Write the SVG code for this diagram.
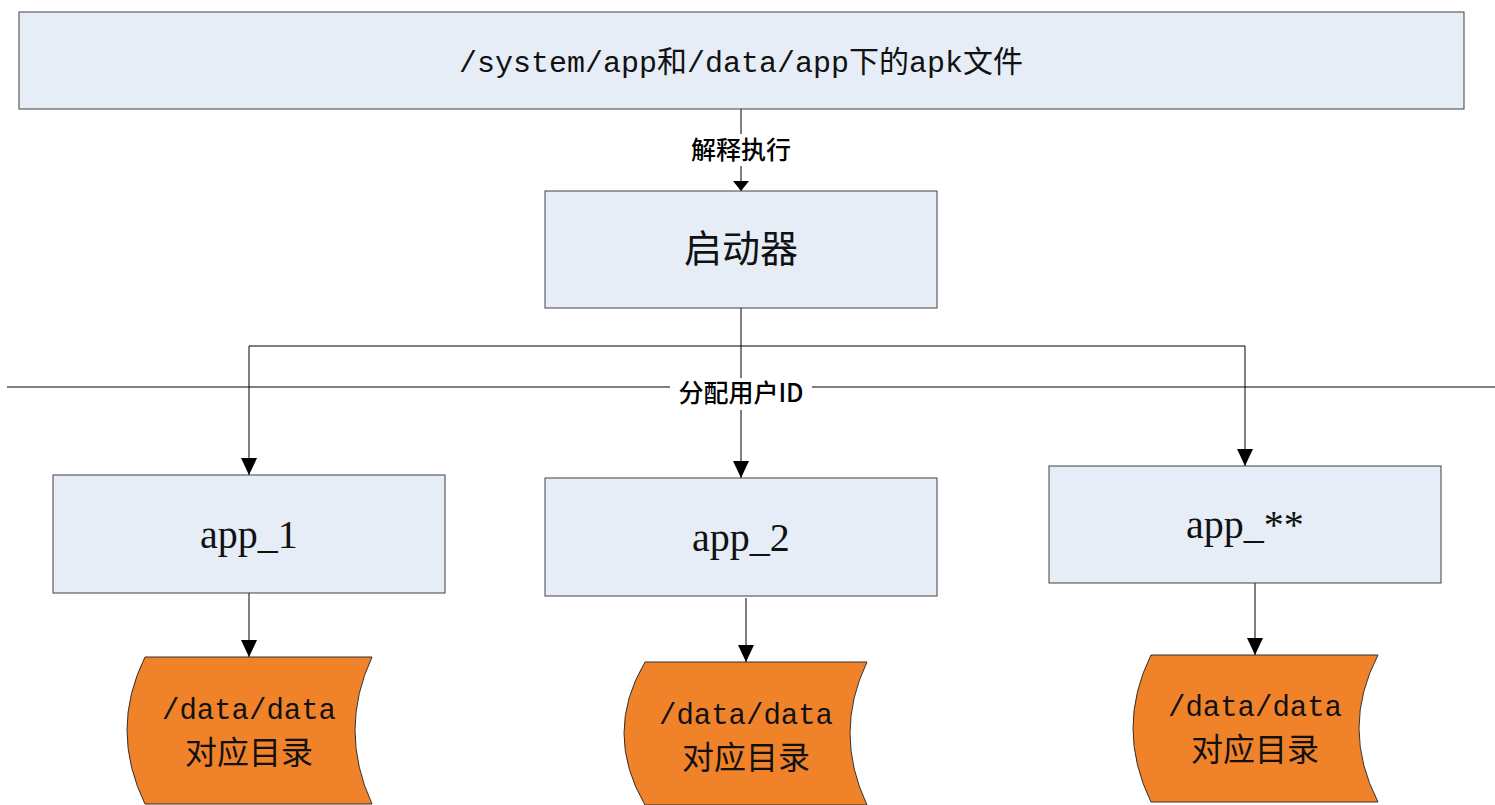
<svg xmlns="http://www.w3.org/2000/svg" width="1495" height="805" viewBox="0 0 1495 805">
  <style>
    .box { fill: #E6EDF7; stroke: #404040; stroke-width: 1; }
    .doc { fill: #F0822A; stroke: #303030; stroke-width: 1; }
    .wire { fill: none; stroke: #000; stroke-width: 1; }
    .mono { font-family: "Liberation Mono", "Noto Sans CJK SC", monospace; fill: #111; }
    .serif { font-family: "Liberation Serif", "Noto Sans CJK SC", serif; fill: #111; }
    .cjk { font-family: "Noto Sans CJK SC", sans-serif; fill: #111; }
    .lbl { font-family: "Noto Sans CJK SC", sans-serif; font-weight: 500; font-size: 25px; fill: #000; }
  </style>
  <defs>
    <marker id="arrow" markerUnits="userSpaceOnUse" markerWidth="18" markerHeight="18" refX="17" refY="8" orient="auto">
      <path d="M0,0 L17,8 L0,16 Z" fill="#000"/>
    </marker>
    <marker id="arrowSmall" markerUnits="userSpaceOnUse" markerWidth="12" markerHeight="18" refX="10" refY="8" orient="auto">
      <path d="M0,0 L10,8 L0,16 Z" fill="#000"/>
    </marker>
  </defs>

  <!-- separator line across the page -->
  <line x1="7" y1="387" x2="1495" y2="387" class="wire"/>

  <g id="connectors">
    <line x1="741" y1="109" x2="741" y2="191" class="wire" marker-end="url(#arrowSmall)"/>
    <polyline points="741,308 741,346" class="wire"/>
    <polyline points="249,346 1245,346" class="wire"/>
    <line x1="249" y1="346" x2="249" y2="475" class="wire" marker-end="url(#arrow)"/>
    <line x1="741" y1="346" x2="741" y2="478" class="wire" marker-end="url(#arrow)"/>
    <line x1="1245" y1="346" x2="1245" y2="466" class="wire" marker-end="url(#arrow)"/>
    <line x1="249" y1="593" x2="249" y2="657" class="wire" marker-end="url(#arrow)"/>
    <line x1="746" y1="598" x2="746" y2="662" class="wire" marker-end="url(#arrow)"/>
    <line x1="1255" y1="583" x2="1255" y2="655" class="wire" marker-end="url(#arrow)"/>
    <!-- edge labels with white backing -->
    <rect x="684" y="134" width="114" height="32" fill="#fff"/>
    <text x="741" y="159" text-anchor="middle" class="lbl">解释执行</text>
    <rect x="670" y="378" width="142" height="32" fill="#fff"/>
    <text x="741" y="402" text-anchor="middle" class="lbl">分配用户ID</text>
  </g>

  <g id="apk-files">
    <rect x="19" y="12" width="1445" height="97" class="box"/>
    <text x="741" y="72" text-anchor="middle" class="mono" font-size="30">/system/app和/data/app下的apk文件</text>
  </g>

  <g id="launcher">
    <rect x="545" y="191" width="392" height="117" class="box"/>
    <text x="741" y="262" text-anchor="middle" class="cjk" font-size="38">启动器</text>
  </g>

  <g id="app-1">
    <rect x="53" y="475" width="392" height="118" class="box"/>
    <text x="249" y="548" text-anchor="middle" class="serif" font-size="40">app_1</text>
  </g>

  <g id="app-2">
    <rect x="545" y="478" width="392" height="118" class="box"/>
    <text x="741" y="551" text-anchor="middle" class="serif" font-size="40">app_2</text>
  </g>

  <g id="app-n">
    <rect x="1049" y="466" width="392" height="117" class="box"/>
    <text x="1245" y="538" text-anchor="middle" class="serif" font-size="40">app_**</text>
  </g>

  <g id="data-1">
    <path d="M145,657 L372,657 Q338,730 372,804 L145,804 Q109,730 145,657 Z" class="doc"/>
    <text x="249" y="719" text-anchor="middle" class="mono" font-size="29">/data/data</text>
    <text x="249" y="764" text-anchor="middle" class="cjk" font-size="32">对应目录</text>
  </g>

  <g id="data-2">
    <path d="M645,662 L867,662 Q833,733 867,805 L645,805 Q603,733 645,662 Z" class="doc"/>
    <text x="746" y="724" text-anchor="middle" class="mono" font-size="29">/data/data</text>
    <text x="746" y="769" text-anchor="middle" class="cjk" font-size="32">对应目录</text>
  </g>

  <g id="data-n">
    <path d="M1151,655 L1378,655 Q1340,728 1378,802 L1151,802 Q1115,728 1151,655 Z" class="doc"/>
    <text x="1255" y="716" text-anchor="middle" class="mono" font-size="29">/data/data</text>
    <text x="1255" y="761" text-anchor="middle" class="cjk" font-size="32">对应目录</text>
  </g>
</svg>
